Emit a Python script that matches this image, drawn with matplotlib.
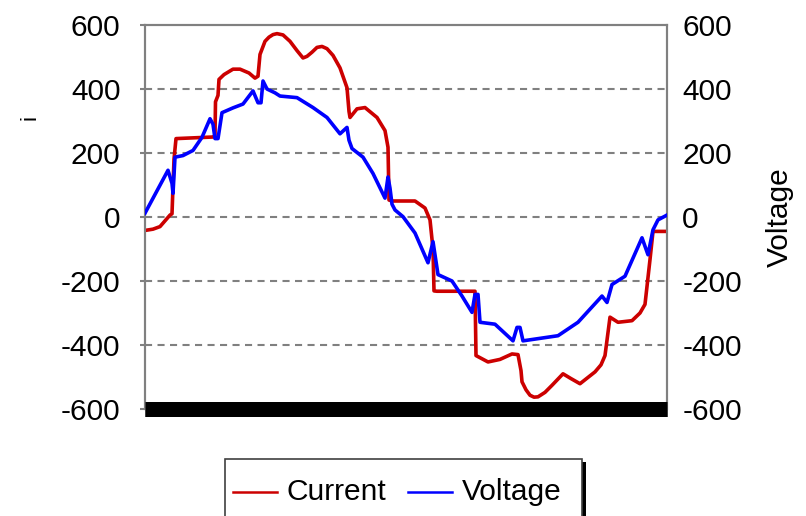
import matplotlib
matplotlib.use("Agg")
import matplotlib.pyplot as plt
from matplotlib.patches import Rectangle
from matplotlib.lines import Line2D

plt.rcParams['font.family'] = ['Liberation Sans', 'DejaVu Sans']
plt.rcParams['axes.unicode_minus'] = False

# sample index along one cycle
current_t = [0, 8, 15, 25, 27, 29, 31, 68, 70, 70.5, 73, 74, 79, 88, 95, 104, 110, 113, 115,
             120, 124, 128, 132, 138, 145, 152, 158, 162, 167, 172, 177, 182, 188, 195, 202,
             204, 205, 212, 220, 232, 240, 243, 244, 247, 270, 280, 285, 288, 289, 292, 330,
             331, 343, 355, 367, 373, 376, 377, 381, 385, 389, 393, 400, 407, 418, 426, 435,
             450, 456, 460, 465, 473, 487, 495, 500, 505, 508, 522]
current = [-42, -38, -30, 6, 10, 180, 245, 250, 255, 360, 380, 430, 445, 462, 462, 450, 434,
           440, 508, 549, 562, 570, 573, 569, 549, 520, 497, 502, 515, 530, 533, 526, 505,
           466, 404, 330, 311, 338, 342, 311, 270, 218, 53, 50, 50, 28, -9, -100, -231, -232,
           -232, -433, -453, -445, -428, -430, -480, -515, -540, -557, -563, -562, -548, -526,
           -490, -505, -521, -484, -462, -433, -313, -329, -324, -300, -273, -133, -45, -45]

voltage_t = [0, 23, 27, 28, 30, 38, 48, 57, 65, 68, 70, 73, 77, 88, 98, 108, 113, 116, 118,
             122, 130, 135, 152, 168, 182, 195, 202, 204, 207, 218, 228, 240, 243, 245, 247,
             250, 258, 270, 283, 288, 293, 307, 317, 327, 330, 333, 335, 350, 368, 372, 375,
             378, 413, 433, 457, 462, 467, 480, 497, 503, 508, 513, 522]
voltage = [12, 146, 105, 74, 187, 192, 208, 249, 307, 290, 245, 245, 326, 341, 353, 394, 357,
           357, 425, 400, 388, 378, 373, 342, 311, 260, 280, 240, 214, 187, 136, 59, 125, 90,
           40, 22, 1, -50, -143, -77, -180, -200, -247, -298, -242, -242, -329, -335, -387,
           -345, -345, -387, -371, -329, -247, -267, -211, -185, -65, -118, -40, -9, 6]

yticks = [-600, -400, -200, 0, 200, 400, 600]
series_names = ["Current", "Voltage"]
left_label = "i"
right_label = "Voltage"

RED = "#CC0000"
BLUE = "#0000FF"
GRAY = "#808080"

W, H = 806, 516
fig = plt.figure(figsize=(W / 100, H / 100), dpi=100)
ax = fig.add_axes([145 / W, (H - 409) / H, 522 / W, 384 / H])
ax2 = ax.twinx()

ax.set_xlim(0, 522)
ax.set_ylim(-600, 600)
ax2.set_ylim(-600, 600)
ax.set_yticks(yticks)
ax2.set_yticks(yticks)
ax.set_xticks([])

for y in yticks[1:-1]:
    ax.axhline(y, color=GRAY, lw=1.5, dashes=(3.4, 2.6), zorder=1)

ax.plot(current_t, current, color=RED, lw=2.6, zorder=3, label=series_names[0])
ax2.plot(voltage_t, voltage, color=BLUE, lw=2.6, zorder=3, label=series_names[1])

for a in (ax, ax2):
    for s in ('left', 'right', 'top'):
        a.spines[s].set_color(GRAY)
        a.spines[s].set_linewidth(1.5)
    a.spines['bottom'].set_color('black')
    a.spines['bottom'].set_linewidth(10.8)
    a.spines['bottom'].set_capstyle('butt')

ax.tick_params(axis='y', direction='out', length=3.6, width=1.5, color=GRAY,
               pad=14, labelsize=21.5)
ax2.tick_params(axis='y', length=0, pad=11, labelsize=21.5)
ax2.set_xticks([])

fig.text(780 / W, 1 - 217 / H, right_label, rotation=90, fontsize=21.5,
         ha='center', va='center')
fig.text(30 / W, 1 - 117 / H, left_label, rotation=90, fontsize=16,
         ha='center', va='center')

# legend (manual frame, partially cut off at bottom edge)
fig.patches.append(Rectangle((229 / W, -0.05), 357 / W, (H - 462) / H + 0.05,
                             transform=fig.transFigure, facecolor='black',
                             edgecolor='none', zorder=0))
fig.patches.append(Rectangle((225 / W, -0.05), 357 / W, (H - 459) / H + 0.05,
                             transform=fig.transFigure, facecolor='white',
                             edgecolor='#404040', lw=1.2, zorder=1))
ly = 1 - 492 / H
fig.lines.append(Line2D([233 / W, 277 / W], [ly, ly], transform=fig.transFigure,
                        color=RED, lw=1.8))
fig.lines.append(Line2D([408 / W, 452 / W], [ly, ly], transform=fig.transFigure,
                        color=BLUE, lw=1.8))
fig.text(287 / W, ly, series_names[0], fontsize=21.5, ha='left', va='center')
fig.text(462 / W, ly, series_names[1], fontsize=21.5, ha='left', va='center')

fig.savefig("out.png", dpi=100)
